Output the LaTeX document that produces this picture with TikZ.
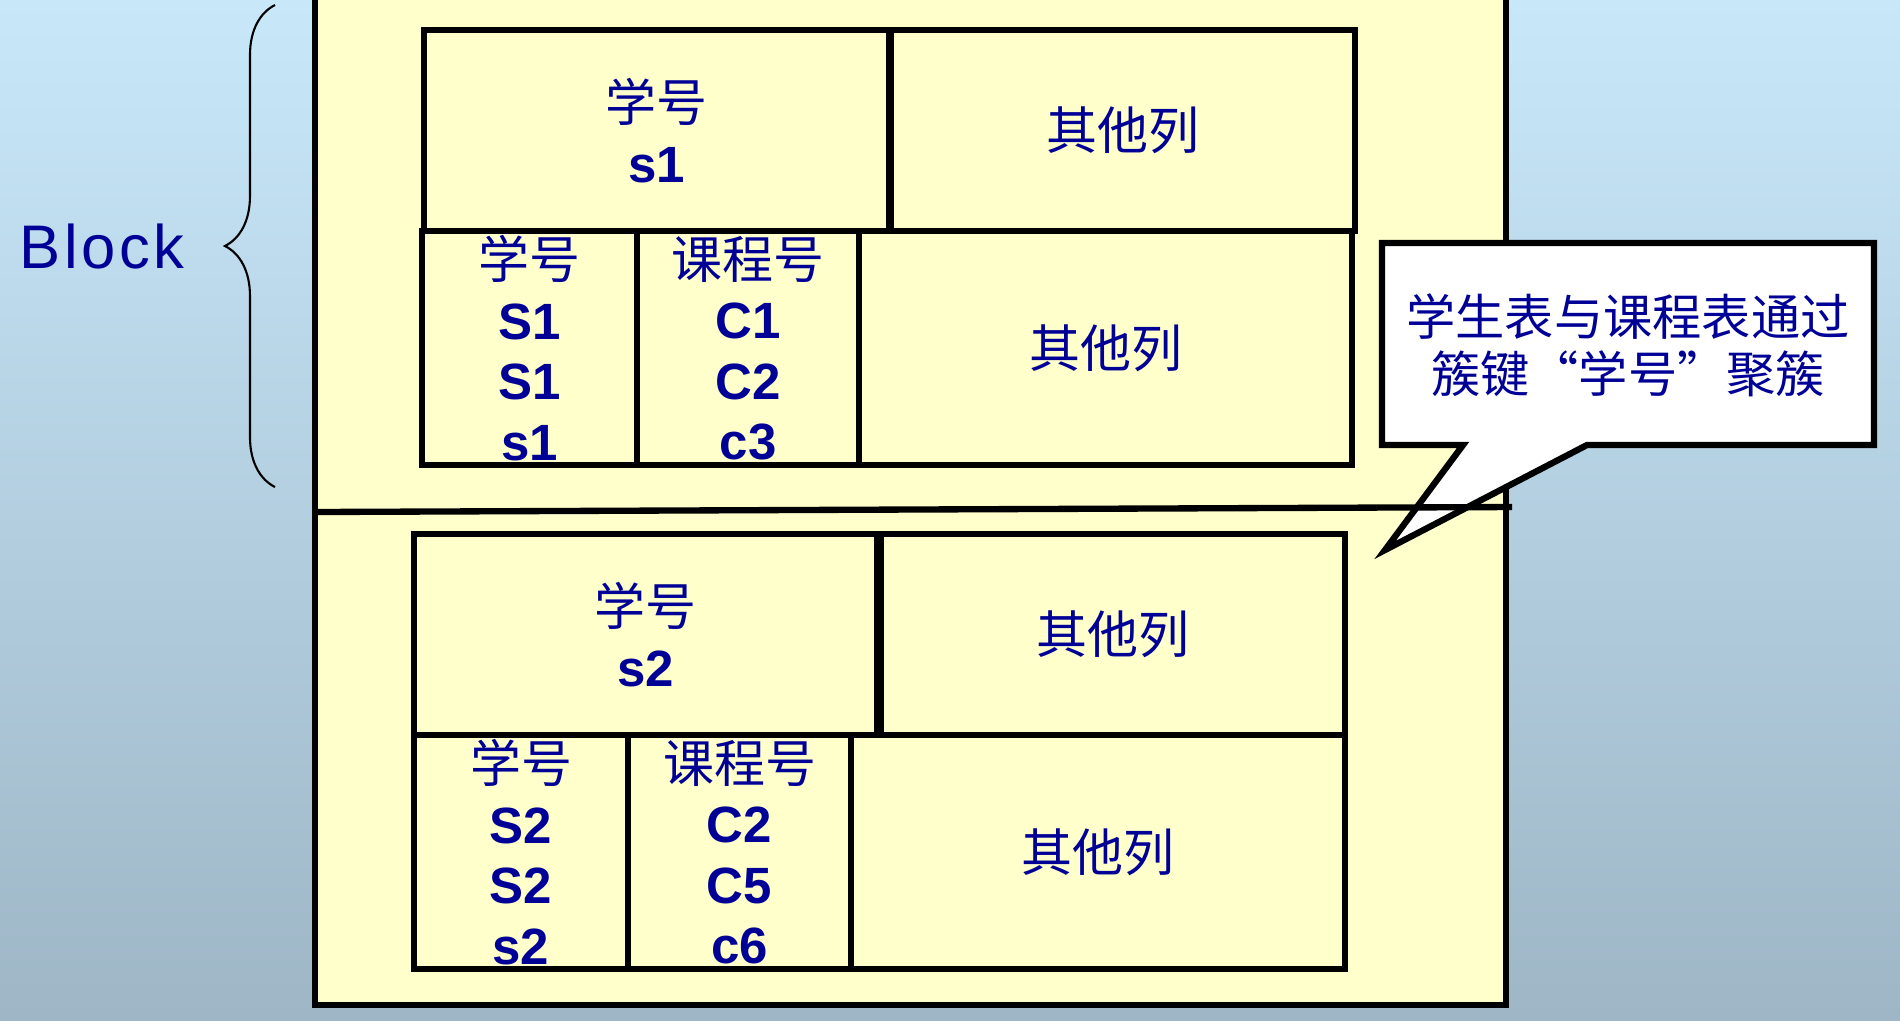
\documentclass[tikz,border=0pt]{standalone}
\usepackage{xcolor}
\usepackage{fontspec}
\setmainfont{Liberation Sans}
\newfontfamily\cjk{Noto Sans CJK SC}
\usetikzlibrary{decorations.pathreplacing}

\definecolor{bgtop}{RGB}{200,232,250}
\definecolor{bgbot}{RGB}{158,182,198}
\definecolor{paper}{RGB}{255,255,204}
\definecolor{ink}{RGB}{0,0,150}
\newcommand{\cjktext}[1]{{\cjk\mdseries #1}}

\begin{document}
\begin{tikzpicture}[x=0.01cm, y=-0.01cm,
  frame/.style={line width=1.8pt},
  cell/.style={draw, frame, fill=paper, inner sep=0pt, align=center,
    text=ink, font=\fontsize{14.5}{17.2}\selectfont\bfseries},
  note/.style={align=center, text=ink, inner sep=0pt,
    font=\cjk\fontsize{14}{16.2}\selectfont},
  blockbrace/.style={decorate, decoration={brace, amplitude=0.5cm}, line width=0.6pt}]
  \useasboundingbox (0,0) rectangle (1900,1020);
  % background
  \shade[top color=bgtop, bottom color=bgbot] (0,0) rectangle (1900,1020);
  % outer block frame (top edge runs off the page)
  \begin{scope}
    \clip (0,0) rectangle (1900,1020);
    \draw[frame, fill=paper] (315,-20) rectangle (1506,1005);
  \end{scope}
  % ---------------- first block ----------------
  \node[cell, minimum width=4.65cm, minimum height=2.01cm] (k1) at (656.5,130.5) {\cjktext{学号}\\s1};
  \node[cell, minimum width=4.64cm, minimum height=2.01cm] (o1) at (1123,130.5) {\cjktext{其他列}};
  \node[cell, minimum width=2.15cm, minimum height=2.34cm] (a1) at (529.5,348) {\cjktext{学号}\\S1\\S1\\s1};
  \node[cell, minimum width=2.22cm, minimum height=2.34cm] (b1) at (748,348) {\cjktext{课程号}\\C1\\C2\\c3};
  \node[cell, minimum width=4.93cm, minimum height=2.34cm] (r1) at (1105.5,348) {\cjktext{其他列}};
  % ---------------- second block ----------------
  \node[cell, minimum width=4.63cm, minimum height=2.01cm] (k2) at (645.5,634.5) {\cjktext{学号}\\s2};
  \node[cell, minimum width=4.64cm, minimum height=2.01cm] (o2) at (1113,634.5) {\cjktext{其他列}};
  \node[cell, minimum width=2.14cm, minimum height=2.34cm] (a2) at (521,852) {\cjktext{学号}\\S2\\S2\\s2};
  \node[cell, minimum width=2.23cm, minimum height=2.34cm] (b2) at (739.5,852) {\cjktext{课程号}\\C2\\C5\\c6};
  \node[cell, minimum width=4.94cm, minimum height=2.34cm] (r2) at (1098,852) {\cjktext{其他列}};
  % brace and label
  \coordinate (btop) at (275,5);
  \coordinate (bbot) at (275,487);
  \draw[blockbrace] (bbot) -- (btop);
  \node[anchor=base, text=ink, font=\fontsize{17.5}{20}\selectfont\addfontfeatures{LetterSpace=6}] (blk) at (102,268) {Block};
  % callout
  \coordinate (tip) at (1385,550);
  \draw[frame, fill=white] (1382,243) -- (1874,243) -- (1874,445) -- (1587,445)
    -- (tip) -- (1463,445) -- (1382,445) -- cycle;
  \node[note] (remark) at (1628,345) {学生表与课程表通过\\簇键“学号”聚簇};
  % divider between blocks
  \draw[frame] (315,512) -- (1512,507);
\end{tikzpicture}
\end{document}
